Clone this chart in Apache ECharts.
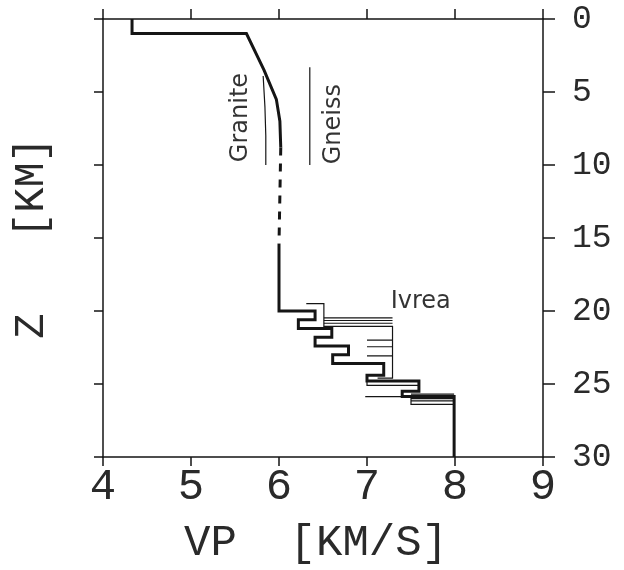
<!DOCTYPE html>
<html>
<head>
<meta charset="utf-8">
<script src="https://cdn.jsdelivr.net/npm/echarts@6/dist/echarts.min.js"></script>
<style>
  html, body { margin: 0; padding: 0; background: #ffffff; }
  #chart { width: 624px; height: 570px; }
</style>
</head>
<body>
<div id="chart"></div>
<script>
// Crustal P-wave velocity model: VP (km/s) against depth Z (km)

const velocityRange = [4, 9];
const depthRange = [0, 30];

// Preferred model, upper crust (solid)
const upperCrust = [
  [4.33, 0], [4.33, 1], [5.63, 1], [5.83, 3.5], [5.97, 5.5], [6.01, 7], [6.02, 8.8]
];
// Poorly resolved middle crust (dashed)
const middleCrust = [[6.02, 8.8], [6.0, 15.4]];
// Lower crust with laminated high-velocity layers, down to the mantle
const lowerCrust = [
  [6.0, 15.4], [6.0, 20.0], [6.41, 20.0], [6.41, 20.6], [6.22, 20.6], [6.22, 21.2],
  [6.60, 21.2], [6.60, 21.8], [6.41, 21.8], [6.41, 22.4], [6.79, 22.4], [6.79, 23.0],
  [6.61, 23.0], [6.61, 23.6], [7.19, 23.6], [7.19, 24.4], [7.0, 24.4], [7.0, 24.8],
  [7.59, 24.8], [7.59, 25.5], [7.40, 25.5], [7.40, 25.86], [7.99, 25.86], [7.99, 30]
];

// Laboratory velocity-depth curves
const graniteCurve = [[5.82, 3.9], [5.84, 6], [5.85, 8], [5.85, 10]];
const gneissCurve = [[6.35, 3.3], [6.35, 10]];

// Ivrea zone laminae (thin lines)
const ivreaCurves = [
  [[6.31, 19.5], [6.51, 19.5], [6.51, 21.1]],
  [[6.51, 20.47], [7.29, 20.47]],
  [[6.51, 20.65], [7.29, 20.65]],
  [[6.51, 20.84], [7.29, 20.84]],
  [[6.51, 21.05], [7.29, 21.05], [7.29, 24.6], [7.12, 24.6]],
  [[7.0, 22.0], [7.29, 22.0]],
  [[7.0, 22.45], [7.29, 22.45]],
  [[7.0, 23.07], [7.29, 23.07]],
  [[7.0, 24.8], [7.0, 25.1], [7.59, 25.1]],
  [[6.98, 25.86], [7.4, 25.86]],
  [[7.5, 25.7], [7.99, 25.7]],
  [[7.5, 26.0], [7.99, 26.0]],
  [[7.5, 26.15], [7.99, 26.15]],
  [[7.5, 25.86], [7.5, 26.4], [7.99, 26.4]]
];

const rockNames = ['Granite', 'Gneiss', 'Ivrea'];

const ink = '#151515';
const axisFont = 'Liberation Mono';

function profile(data, width, type) {
  return {
    type: 'line', data: data, showSymbol: false, symbol: 'none', silent: true,
    xAxisIndex: 0, yAxisIndex: 0, animation: false,
    lineStyle: { color: ink, width: width, type: type || 'solid', cap: 'butt', join: 'miter' }
  };
}

const series = [
  profile(upperCrust, 3),
  profile(middleCrust, 3, [8, 8]),
  profile(lowerCrust, 3),
  profile(graniteCurve, 1.2),
  profile(gneissCurve, 1.2)
];
ivreaCurves.forEach(c => series.push(profile(c, 1.2)));

// Rock-type annotations
series.push({
  type: 'scatter', symbolSize: 0, silent: true, animation: false,
  xAxisIndex: 0, yAxisIndex: 0,
  label: {
    show: true, position: 'inside', formatter: p => p.name,
    fontFamily: 'DejaVu Sans', fontSize: 24, color: '#000000'
  },
  data: [
    { name: rockNames[0], value: [5.57, 6.75], label: { rotate: 90 } },
    { name: rockNames[1], value: [6.62, 7.2], label: { rotate: 90 } },
    { name: rockNames[2], value: [7.61, 19.36] }
  ]
});

const axisLine = { show: true, onZero: false, lineStyle: { color: ink, width: 1.5 } };

const chart = echarts.init(document.getElementById('chart'), null, { renderer: 'canvas' });
chart.setOption({
  backgroundColor: '#ffffff',
  animation: false,
  grid: { left: 103, right: 81, top: 19, bottom: 111, containLabel: false },
  xAxis: [
    {
      type: 'value', position: 'bottom', min: velocityRange[0], max: velocityRange[1], interval: 1,
      axisLine: axisLine,
      axisTick: { show: true, inside: false, length: 9, lineStyle: { color: ink, width: 1.5 } },
      axisLabel: { show: true, margin: 8, fontFamily: axisFont, fontSize: 44, color: '#2a2a2a' },
      splitLine: { show: false },
      name: 'VP  [KM/S]', nameLocation: 'middle', nameGap: 64,
      nameTextStyle: { fontFamily: axisFont, fontSize: 44, color: '#2a2a2a', padding: [0, 14, 0, 0] }
    },
    {
      type: 'value', position: 'top', min: velocityRange[0], max: velocityRange[1], interval: 1,
      axisLine: axisLine,
      axisTick: { show: true, inside: false, length: 10, lineStyle: { color: ink, width: 1.5 } },
      axisLabel: { show: false },
      splitLine: { show: false }
    }
  ],
  yAxis: [
    {
      type: 'value', position: 'right', inverse: true, min: depthRange[0], max: depthRange[1], interval: 5,
      axisLine: axisLine,
      axisTick: { show: true, inside: false, length: 12, lineStyle: { color: ink, width: 1.5 } },
      axisLabel: { show: true, margin: 29, fontFamily: axisFont, fontSize: 33, color: '#2a2a2a' },
      splitLine: { show: false }
    },
    {
      type: 'value', position: 'left', inverse: true, min: depthRange[0], max: depthRange[1], interval: 5,
      axisLine: axisLine,
      axisTick: { show: true, inside: false, length: 9, lineStyle: { color: ink, width: 1.5 } },
      axisLabel: { show: false },
      splitLine: { show: false },
      name: 'Z   [KM]', nameLocation: 'middle', nameGap: 50, nameRotate: 90,
      nameTextStyle: { fontFamily: axisFont, fontSize: 42, color: '#2a2a2a' }
    }
  ],
  series: series
});
</script>
</body>
</html>
